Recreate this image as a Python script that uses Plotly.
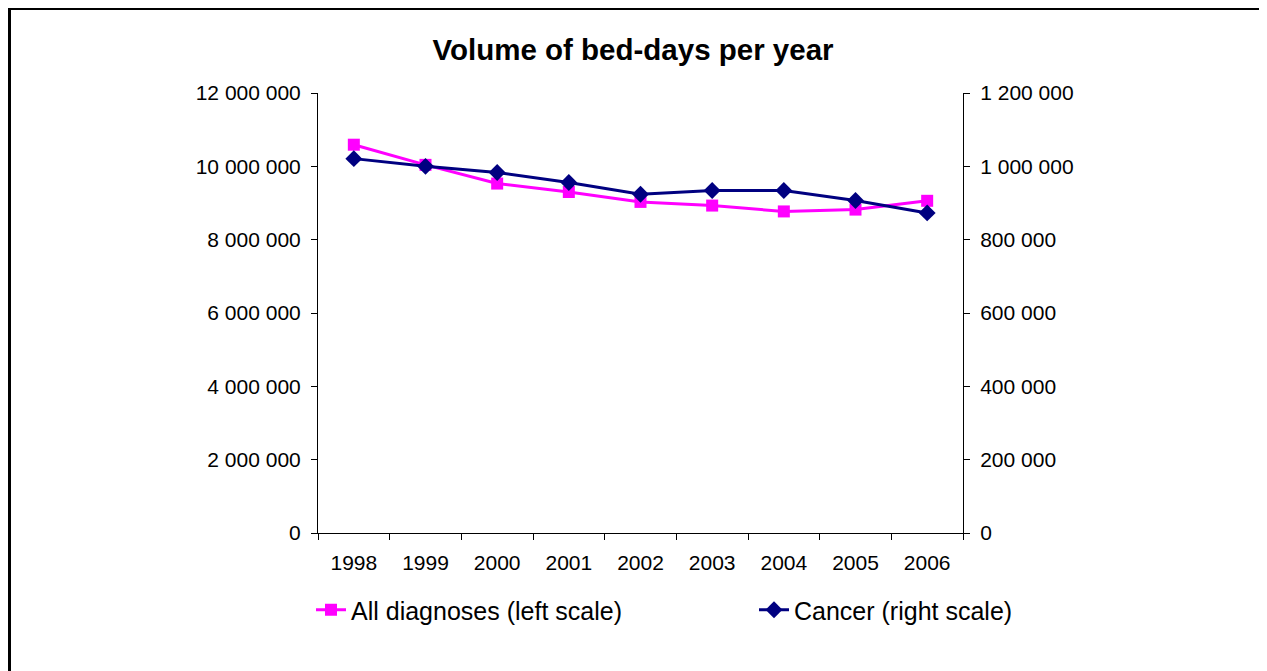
import plotly.graph_objects as go

# ______________________ data ______________________
years = ["1998", "1999", "2000", "2001", "2002", "2003", "2004", "2005", "2006"]
all_diagnoses = [10590000, 10040000, 9530000, 9300000, 9030000, 8930000, 8770000, 8820000, 9060000]
cancer = [1021000, 1000000, 983000, 956000, 924000, 934000, 934000, 907000, 873000]

FONT = "Liberation Sans, Arial, sans-serif"

# the page puts the figure at (8, 8), so figure size and margins are shifted by that
W, H = 1259, 663
L, T, PW, PH = 310, 85, 645, 440

fig = go.Figure()
fig.add_trace(go.Scatter(x=years, y=all_diagnoses, name="All diagnoses (left scale)",
                         mode="lines+markers", line=dict(color="#FF00FF", width=3),
                         marker=dict(symbol="square", size=12, color="#FF00FF"),
                         legend="legend"))
fig.add_trace(go.Scatter(x=years, y=cancer, name="Cancer (right scale)", yaxis="y2",
                         mode="lines+markers", line=dict(color="#000080", width=3),
                         marker=dict(symbol="diamond", size=13, color="#000080"),
                         legend="legend2"))

axis_common = dict(showline=True, linecolor="black", linewidth=1, showgrid=False, zeroline=False,
                   ticks="outside", ticklen=6, tickcolor="black",
                   tickfont=dict(family=FONT, size=21, color="black"))

legend_font = dict(family=FONT, size=25, color="black")

fig.update_layout(
    width=W, height=H,
    margin=dict(l=L, r=W - L - PW, t=T, b=H - T - PH),
    paper_bgcolor="white", plot_bgcolor="white",
    separators=". ",
    font=dict(family=FONT, color="black"),
    title=dict(text="<b>Volume of bed-days per year</b>", xref="container", x=625 / W,
               xanchor="center", y=1 - 42 / H, yanchor="middle",
               font=dict(family=FONT, size=29.5, color="black")),
    xaxis=dict(type="category", range=[-0.5, 8.5], tickson="boundaries",
               ticklabelstandoff=11, **axis_common),
    yaxis=dict(range=[0, 12000000], dtick=2000000, tickformat=",d",
               ticklabelstandoff=6, **axis_common),
    yaxis2=dict(range=[0, 1200000], dtick=200000, tickformat=",d", overlaying="y", side="right",
                ticklabelstandoff=6, **axis_common),
    legend=dict(x=(303 - L) / PW, y=(T + PH - 602) / PH, xanchor="left", yanchor="middle",
                font=legend_font, bgcolor="rgba(0,0,0,0)"),
    legend2=dict(x=(746 - L) / PW, y=(T + PH - 602) / PH, xanchor="left", yanchor="middle",
                 font=legend_font, bgcolor="rgba(0,0,0,0)"),
    showlegend=True,
)

# outer frame of the chart area
fig.add_shape(type="rect", xref="paper", yref="paper",
              x0=(1.5 - L) / PW, x1=(1254.5 - L) / PW,
              y0=(T + PH - 700) / PH, y1=(T + PH - 0.5) / PH,
              line=dict(color="black", width=3), fillcolor="rgba(0,0,0,0)", layer="below")

fig.write_html("out.html")
